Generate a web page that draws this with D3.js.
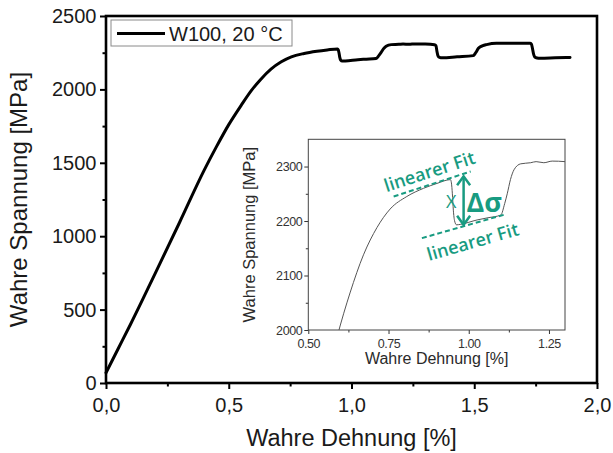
<!DOCTYPE html>
<html>
<head>
<meta charset="utf-8">
<script src="https://cdn.jsdelivr.net/npm/d3@7"></script>
<style>
  html, body { margin: 0; padding: 0; background: #fff; }
  svg { display: block; }
  text { font-family: "Liberation Sans", Arial, sans-serif; }
</style>
</head>
<body>
<script>
// True stress-strain curve of W100 at 20 °C with strain-rate jumps
const strain = [0, 0.05, 0.1, 0.2, 0.3, 0.4, 0.45, 0.5, 0.55, 0.591, 0.63, 0.672, 0.714, 0.755, 0.807, 0.859, 0.901, 0.943,
  0.946, 0.949, 0.952, 0.956, 0.962, 0.975, 1.026, 1.06, 1.1, 1.112, 1.12, 1.13, 1.141, 1.162, 1.193, 1.21, 1.234, 1.26, 1.3,
  1.338, 1.344, 1.348, 1.352, 1.358, 1.37, 1.43, 1.496, 1.506, 1.517, 1.535, 1.55, 1.59, 1.65, 1.727,
  1.733, 1.737, 1.741, 1.746, 1.756, 1.768, 1.83, 1.89];
const stress = [70, 235, 400, 745, 1095, 1450, 1610, 1760, 1890, 1990, 2068, 2138, 2188, 2222, 2245, 2260, 2269, 2276,
  2270, 2250, 2220, 2200, 2193, 2194, 2202, 2206, 2211, 2232, 2250, 2276, 2294, 2305, 2307, 2309, 2307, 2310, 2309,
  2304, 2298, 2260, 2230, 2218, 2215, 2222, 2230, 2250, 2280, 2298, 2305, 2314, 2314, 2314,
  2308, 2280, 2245, 2222, 2214, 2212, 2215, 2218];

// Axis ticks
const xTicks = [0, 0.5, 1.0, 1.5, 2.0];
const xMinor = [0.25, 0.75, 1.25, 1.75];
const yTicks = [0, 500, 1000, 1500, 2000, 2500];
const yMinor = [250, 750, 1250, 1750, 2250];
const insetXTicks = [0.5, 0.75, 1.0, 1.25];
const insetXMinor = [0.625, 0.875, 1.125];
const insetYTicks = [2000, 2100, 2200, 2300];
const insetYMinor = [2050, 2150, 2250];

// Linear fits around the first strain-rate jump (inset data units)
const fitUpper = [[0.766, 2245], [1.006, 2291]];
const fitLower = [[0.854, 2168.6], [1.109, 2211.4]];
const deltaArrow = [[0.984, 2282], [0.984, 2193]];
const fitLabels = [
  { text: "linearer Fit", x: 0.877, y: 2292, angle: -18 },
  { text: "linearer Fit", x: 1.012, y: 2163, angle: -16 }
];

const W = 613, H = 453;
const teal = "#189b81";
const svg = d3.select("body").append("svg").attr("width", W).attr("height", H);
svg.append("rect").attr("width", W).attr("height", H).attr("fill", "#fff");

const x = d3.scaleLinear().domain([0, 2]).range([106, 597]);
const y = d3.scaleLinear().domain([0, 2500]).range([383, 16]);
const comma = v => d3.format(".1f")(v).replace(".", ",");

const data = strain.map((s, i) => [s, stress[i]]);

// ---- main panel ----
const gx = svg.append("g").attr("transform", `translate(0,${y(0)})`)
  .call(d3.axisBottom(x).tickValues(xTicks).tickFormat(comma).tickSize(6).tickPadding(9));
const gxm = svg.append("g").attr("transform", `translate(0,${y(0)})`)
  .call(d3.axisBottom(x).tickValues(xMinor).tickFormat("").tickSize(3.5));
const gy = svg.append("g").attr("transform", `translate(${x(0)},0)`)
  .call(d3.axisLeft(y).tickValues(yTicks).tickFormat(d3.format("d")).tickSize(6).tickPadding(3.5));
const gym = svg.append("g").attr("transform", `translate(${x(0)},0)`)
  .call(d3.axisLeft(y).tickValues(yMinor).tickFormat("").tickSize(3.5));
[gx, gxm, gy, gym].forEach(g => {
  g.select(".domain").remove();
  g.selectAll(".tick line").attr("stroke", "#000").attr("stroke-width", 2);
  g.selectAll(".tick text").attr("fill", "#1a1a1a").style("font-size", "20px")
    .style("font-family", "'Liberation Sans', Arial, sans-serif");
});

// plot frame
svg.append("rect").attr("x", x(0)).attr("y", y(2500))
  .attr("width", x(2) - x(0)).attr("height", y(0) - y(2500))
  .attr("fill", "none").attr("stroke", "#000").attr("stroke-width", 2.6);

// axis titles
svg.append("text").attr("transform", `translate(27,${(y(0) + y(2500)) / 2}) rotate(-90)`)
  .attr("text-anchor", "middle").style("font-size", "24px").attr("fill", "#1a1a1a")
  .text("Wahre Spannung [MPa]");
svg.append("text").attr("x", (x(0) + x(2)) / 2).attr("y", 446)
  .attr("text-anchor", "middle").style("font-size", "23.5px").attr("fill", "#1a1a1a")
  .text("Wahre Dehnung [%]");

// curve
const line = d3.line().x(d => x(d[0])).y(d => y(d[1])).curve(d3.curveMonotoneX);
svg.append("path").datum(data).attr("d", line)
  .attr("fill", "none").attr("stroke", "#000").attr("stroke-width", 3)
  .attr("stroke-linejoin", "round").attr("stroke-linecap", "round");

// legend
const leg = svg.append("g");
leg.append("rect").attr("x", 111).attr("y", 20).attr("width", 181).attr("height", 26)
  .attr("fill", "#fff").attr("stroke", "#8a8a8a").attr("stroke-width", 1);
leg.append("line").attr("x1", 117).attr("x2", 165).attr("y1", 33.5).attr("y2", 33.5)
  .attr("stroke", "#000").attr("stroke-width", 3);
leg.append("text").attr("x", 169).attr("y", 41).style("font-size", "20px").attr("fill", "#1a1a1a")
  .text("W100, 20 °C");

// ---- inset panel ----
const ix = d3.scaleLinear().domain([0.5, 1.3]).range([308.3, 565]);
const iy = d3.scaleLinear().domain([2000, 2350]).range([330, 139.3]);
const inset = svg.append("g");
inset.append("rect").attr("x", 236).attr("y", 134).attr("width", 333).attr("height", 240).attr("fill", "#fff");

inset.append("clipPath").attr("id", "insetClip").append("rect")
  .attr("x", ix(0.5)).attr("y", iy(2350)).attr("width", ix(1.3) - ix(0.5)).attr("height", iy(2000) - iy(2350));

const ig = [
  inset.append("g").attr("transform", `translate(0,${iy(2000)})`)
    .call(d3.axisBottom(ix).tickValues(insetXTicks).tickFormat(d3.format(".2f")).tickSize(4).tickPadding(5.5)),
  inset.append("g").attr("transform", `translate(0,${iy(2000)})`)
    .call(d3.axisBottom(ix).tickValues(insetXMinor).tickFormat("").tickSize(2.5)),
  inset.append("g").attr("transform", `translate(${ix(0.5)},0)`)
    .call(d3.axisLeft(iy).tickValues(insetYTicks).tickFormat(d3.format("d")).tickSize(4).tickPadding(2)),
  inset.append("g").attr("transform", `translate(${ix(0.5)},0)`)
    .call(d3.axisLeft(iy).tickValues(insetYMinor).tickFormat("").tickSize(2.5))
];
ig.forEach(g => {
  g.select(".domain").remove();
  g.selectAll(".tick line").attr("stroke", "#333").attr("stroke-width", 1);
  g.selectAll(".tick text").attr("fill", "#333").style("font-size", "12.5px")
    .style("letter-spacing", "-0.4px")
    .style("font-family", "'Liberation Sans', Arial, sans-serif");
});
inset.append("rect").attr("x", ix(0.5)).attr("y", iy(2350))
  .attr("width", ix(1.3) - ix(0.5)).attr("height", iy(2000) - iy(2350))
  .attr("fill", "none").attr("stroke", "#444").attr("stroke-width", 1);

inset.append("text").attr("transform", `translate(255,${(iy(2000) + iy(2350)) / 2}) rotate(-90)`)
  .attr("text-anchor", "middle").style("font-size", "16.5px").attr("fill", "#2a2a2a")
  .text("Wahre Spannung [MPa]");
inset.append("text").attr("x", (ix(0.5) + ix(1.3)) / 2).attr("y", 364)
  .attr("text-anchor", "middle").style("font-size", "16px").attr("fill", "#2a2a2a")
  .text("Wahre Dehnung [%]");

const iline = d3.line().x(d => ix(d[0])).y(d => iy(d[1])).curve(d3.curveMonotoneX);
inset.append("path").datum(data).attr("d", iline).attr("clip-path", "url(#insetClip)")
  .attr("fill", "none").attr("stroke", "#555").attr("stroke-width", 1);

// fit lines, labels and Δσ arrow
const ann = inset.append("g");
[fitUpper, fitLower].forEach(f => {
  ann.append("line")
    .attr("x1", ix(f[0][0])).attr("y1", iy(f[0][1]))
    .attr("x2", ix(f[1][0])).attr("y2", iy(f[1][1]))
    .attr("stroke", teal).attr("stroke-width", 2).attr("stroke-dasharray", "5,3");
});
fitLabels.forEach(l => {
  ann.append("text")
    .attr("transform", `translate(${ix(l.x)},${iy(l.y)}) rotate(${l.angle})`)
    .attr("text-anchor", "middle").attr("dominant-baseline", "central")
    .style("font-family", "'Open Sans', sans-serif").style("font-weight", 600)
    .style("font-size", "18px").attr("fill", teal).text(l.text);
});
const ax = ix(deltaArrow[0][0]), ay1 = iy(deltaArrow[0][1]), ay2 = iy(deltaArrow[1][1]);
ann.append("line").attr("x1", ax).attr("x2", ax).attr("y1", ay1).attr("y2", ay2)
  .attr("stroke", teal).attr("stroke-width", 2.5);
ann.append("path")
  .attr("d", `M${ax - 6.5},${ay1 + 9}L${ax},${ay1}L${ax + 6.5},${ay1 + 9}M${ax - 6.5},${ay2 - 9}L${ax},${ay2}L${ax + 6.5},${ay2 - 9}`)
  .attr("fill", "none").attr("stroke", teal).attr("stroke-width", 2.5).attr("stroke-linejoin", "miter");
ann.append("text").attr("x", ix(0.945)).attr("y", iy(2236))
  .attr("text-anchor", "middle").attr("dominant-baseline", "central")
  .style("font-family", "'Open Sans', sans-serif").style("font-size", "18px").attr("fill", teal).text("X");
ann.append("text").attr("x", ix(1.048)).attr("y", iy(2236))
  .attr("text-anchor", "middle").attr("dominant-baseline", "central")
  .style("font-family", "'Open Sans', sans-serif").style("font-weight", 700)
  .style("font-size", "27px").attr("fill", teal).text("Δσ");
</script>
</body>
</html>
